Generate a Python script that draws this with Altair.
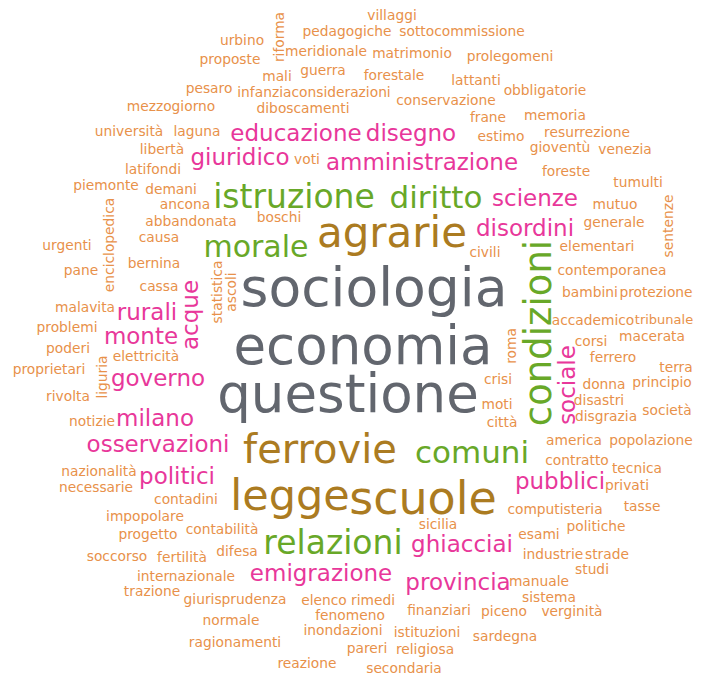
import altair as alt
import pandas as pd

# word, centre x (px in the image), baseline y (px), font size, angle, colour group
words = [
    "villaggi", "riforma", "pedagogiche", "sottocommissione", "urbino", "meridionale",
    "matrimonio", "prolegomeni", "proposte", "mali", "guerra", "forestale", "lattanti",
    "obbligatorie", "pesaro", "infanziaconsiderazioni", "conservazione", "mezzogiorno",
    "diboscamenti", "frane", "memoria", "estimo", "resurrezione", "università", "laguna",
    "gioventù", "venezia", "libertà", "voti", "latifondi", "foreste", "tumulti", "piemonte",
    "demani", "ancona", "mutuo", "sentenze", "abbandonata", "boschi", "generale", "causa",
    "urgenti", "enciclopedica", "civili", "elementari", "contemporanea", "pane", "bernina",
    "cassa", "statistica", "ascoli", "bambini", "protezione", "malavita", "accademico",
    "tribunale", "problemi", "roma", "macerata", "corsi", "poderi", "elettricità", "ferrero",
    "liguria", "proprietari", "terra", "crisi", "donna", "principio", "rivolta", "moti",
    "disastri", "società", "notizie", "città", "disgrazia", "america", "popolazione",
    "contratto", "tecnica", "nazionalità", "necessarie", "privati", "contadini", "tasse",
    "computisteria", "impopolare", "sicilia", "contabilità", "politiche", "progetto", "esami",
    "industrie", "strade", "soccorso", "fertilità", "difesa", "studi", "internazionale",
    "manuale", "trazione", "giurisprudenza", "elenco", "rimedi", "sistema", "finanziari",
    "fenomeno", "normale", "piceno", "verginità", "inondazioni", "istituzioni", "sardegna",
    "ragionamenti", "pareri", "religiosa", "reazione", "secondaria",
    # pink
    "educazione", "disegno", "giuridico", "amministrazione", "scienze", "disordini",
    "rurali", "acque", "monte", "governo", "milano", "osservazioni", "politici", "pubblici",
    "ghiacciai", "emigrazione", "provincia", "sociale",
    # green
    "istruzione", "diritto", "morale", "condizioni", "comuni", "relazioni",
    # brown
    "agrarie", "ferrovie", "legge", "scuole",
    # gray
    "sociologia", "economia", "questione",
]

xs = [
    392, 284, 347, 462, 242, 326,
    412, 510, 230, 277, 323, 394, 476,
    545, 209, 314, 446, 171,
    303, 488, 555, 501, 587, 129, 197,
    560, 625, 162, 307, 153, 566, 638, 106,
    171, 185, 615, 673, 191, 279, 614, 159,
    67, 114, 485, 597, 612, 81, 154,
    159, 222, 236, 590, 656, 85, 593,
    664, 67, 516, 652, 591, 68, 146, 613,
    107, 49, 676, 498, 604, 662, 68, 497,
    599, 667, 92, 502, 606, 574, 651,
    577, 637, 99, 96, 627, 186, 642,
    555, 145, 438, 222, 596, 148, 539,
    553, 607, 117, 182, 237, 592, 186,
    539, 152, 235, 324, 373, 549, 439,
    350, 231, 504, 572, 343, 427, 505,
    235, 367, 425, 307, 404,
    296, 411, 240, 422, 535, 525,
    147, 198, 141, 158, 155, 158, 177, 560,
    462, 321, 458, 575,
    294, 436, 256, 551, 472, 333,
    392, 320, 290, 423,
    374, 363, 348,
]

ys = [
    20, 37, 36, 36, 45, 56,
    58, 61, 64, 81, 75, 80, 85,
    95, 93, 97, 105, 111,
    113, 122, 120, 141, 137, 136, 136,
    152, 154, 154, 164, 174, 176, 187, 190,
    194, 209, 209, 226, 226, 222, 227, 242,
    250, 245, 257, 251, 275, 275, 268,
    291, 292, 292, 297, 297, 312, 325,
    324, 332, 346, 341, 346, 353, 361, 362,
    377, 374, 372, 384, 389, 387, 401, 409,
    405, 415, 426, 427, 421, 445, 445,
    465, 473, 476, 492, 490, 504, 511,
    514, 521, 529, 534, 531, 539, 539,
    559, 559, 561, 562, 556, 574, 581,
    586, 596, 604, 605, 605, 602, 615,
    620, 625, 616, 616, 635, 637, 641,
    647, 653, 654, 668, 673,
    141, 141, 165, 170, 206, 236,
    320, 315, 344, 386, 426, 452, 484, 489,
    552, 581, 590, 385,
    208, 208, 257, 333, 463, 554,
    247, 463, 510, 514,
    306, 364, 412,
]

vertical_words = ["riforma", "sentenze", "enciclopedica", "statistica", "ascoli", "roma",
                  "liguria", "acque", "sociale", "condizioni"]

pink_words = ["educazione", "disegno", "giuridico", "amministrazione", "scienze", "disordini",
              "rurali", "acque", "monte", "governo", "milano", "osservazioni", "politici",
              "pubblici", "ghiacciai", "emigrazione", "provincia", "sociale"]
green_sizes = {"istruzione": 33, "diritto": 31, "morale": 30, "condizioni": 37,
               "comuni": 31, "relazioni": 33}
brown_sizes = {"agrarie": 42, "ferrovie": 40, "legge": 43, "scuole": 46}
gray_sizes = {"sociologia": 53.5, "economia": 53, "questione": 53}
small_overrides = {"tribunale": 13}

group_names = ["small", "pink", "green", "brown", "gray"]
group_colors = ["#e8914a", "#e8379a", "#68a828", "#ab7b21", "#62666e"]

sizes, groups, angles = [], [], []
for w in words:
    if w in gray_sizes:
        sizes.append(gray_sizes[w]); groups.append("gray")
    elif w in brown_sizes:
        sizes.append(brown_sizes[w]); groups.append("brown")
    elif w in green_sizes:
        sizes.append(green_sizes[w]); groups.append("green")
    elif w in pink_words:
        sizes.append(23); groups.append("pink")
    else:
        sizes.append(small_overrides.get(w, 13.8)); groups.append("small")
    angles.append(270 if w in vertical_words else 0)

df = pd.DataFrame({"word": words, "x": xs, "y": ys, "size": sizes,
                   "angle": angles, "group": groups})

W, H = 685, 667

chart = (
    alt.Chart(df)
    .mark_text(font="DejaVu Sans", align="center", baseline="alphabetic")
    .encode(
        x=alt.X("x:Q", scale=alt.Scale(domain=[8, 8 + W]), axis=None),
        y=alt.Y("y:Q", scale=alt.Scale(domain=[8 + H, 8]), axis=None),
        text="word:N",
        size=alt.Size("size:Q", scale=None),
        angle=alt.Angle("angle:Q", scale=None),
        color=alt.Color("group:N", scale=alt.Scale(domain=group_names, range=group_colors),
                        legend=None),
    )
    .properties(width=W, height=H, padding=0, autosize=alt.AutoSizeParams(type="none"))
    .configure_view(stroke=None)
)

chart.save("out.html", embed_options={"renderer": "svg", "actions": False})
